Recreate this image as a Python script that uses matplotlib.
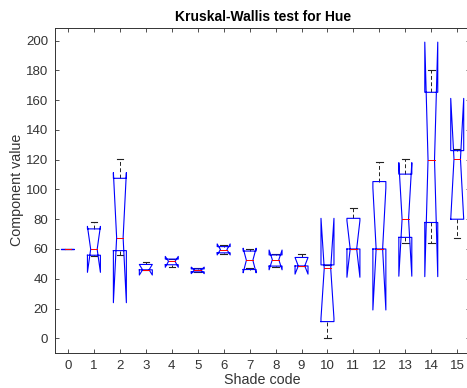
import matplotlib
matplotlib.use("Agg")
import matplotlib.pyplot as plt
import numpy as np

# Valeurs (une boîte par code de teinte)
shade_codes = list(range(16))
q1 = [60, 55.8, 58.9, 46, 49.4, 44.6, 57.4, 46.2, 48.5, 48.6, 11.2, 60, 60, 67.8, 77.8, 80]
median = [60, 59.8, 67.6, 46, 51.7, 46, 59.6, 52.4, 52.8, 48.6, 47, 60, 60, 80, 120, 120.5]
q3 = [60, 73.5, 107.5, 49.6, 53.2, 46.6, 61.6, 58.6, 56, 54.3, 49.3, 80.6, 105.3, 110.3, 165.3, 126.1]
notch_lo = [60, 44.3, 23.9, 42.5, 47.7, 43.4, 56, 44, 46, 43.1, 13.4, 41, 19, 41.7, 41.4, 80]
notch_hi = [60, 75.2, 111.3, 49.6, 55, 47.8, 63.4, 60.5, 59.3, 54.3, 80.6, 79, 101, 118, 199, 161.2]
whisker_lo = [60, 55, 56, 46, 48, 44.2, 56.8, 47, 47.7, 48.6, 0, 60, 60, 63.8, 63.8, 67.2]
whisker_hi = [60, 78, 120.3, 51.2, 53.2, 47, 62.7, 59.9, 56.8, 56.5, 49.3, 87.8, 118.2, 120.2, 180, 127.2]

plt.rcParams['font.family'] = ['Liberation Sans', 'DejaVu Sans']

fig = plt.figure(figsize=(4.67, 3.88), dpi=100)
# l'axe déborde à droite (image rognée comme l'original)
ax = fig.add_axes([55 / 467, 35.3 / 388, 415.2 / 467, 325 / 388])

hw = 0.25   # demi-largeur de boîte
nw = 0.125  # demi-largeur au niveau de l'encoche
cw = 0.125  # demi-largeur des moustaches

for i, p in enumerate(shade_codes):
    # moustaches en pointillés noirs + extrémités
    ax.plot([p, p], [q3[i], whisker_hi[i]], color='#222222', lw=0.7, ls=(0, (4, 2.5)), zorder=1)
    ax.plot([p, p], [q1[i], whisker_lo[i]], color='#222222', lw=0.7, ls=(0, (4, 2.5)), zorder=1)
    ax.plot([p - cw, p + cw], [whisker_hi[i]] * 2, color='#222222', lw=0.8, zorder=1)
    ax.plot([p - cw, p + cw], [whisker_lo[i]] * 2, color='#222222', lw=0.8, zorder=1)

    # boîte à encoches style MATLAB
    xs = [p - hw, p - hw, p - nw, p - hw, p - hw, p + hw, p + hw, p + nw, p + hw, p + hw, p - hw]
    ys = [q1[i], notch_lo[i], median[i], notch_hi[i], q3[i], q3[i],
          notch_hi[i], median[i], notch_lo[i], q1[i], q1[i]]
    ax.plot(xs, ys, color='blue', lw=0.8, zorder=2)

    # médiane
    ax.plot([p - nw, p + nw], [median[i]] * 2, color='red', lw=0.7, zorder=3)

ax.set_xlim(-0.5, 15.5)
ax.set_ylim(-9.7, 208.7)
ax.set_xticks(shade_codes)
ax.set_yticks(np.arange(0, 201, 20))

ax.tick_params(direction='in', length=3, width=0.6, top=True, right=True,
               labelsize=9.5, colors='#333333', pad=5)
for s in ax.spines.values():
    s.set_color('#333333')
    s.set_linewidth(0.7)

ax.set_title("Kruskal-Wallis test for Hue", fontsize=10, fontweight='bold', pad=5)
ax.set_xlabel("Shade code", fontsize=10.3, color='#333333', labelpad=1)
ax.set_ylabel("Component value", fontsize=10.3, color='#333333', labelpad=1)

fig.savefig("out.png", dpi=100)
